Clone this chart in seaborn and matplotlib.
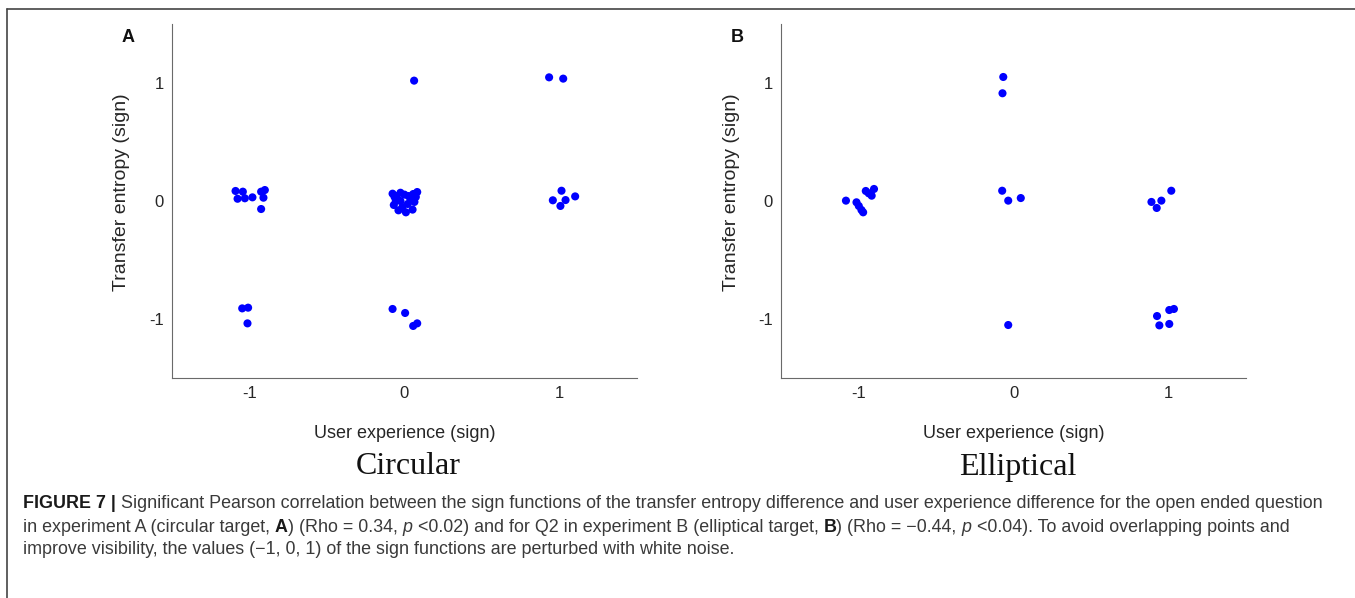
import matplotlib
matplotlib.use("Agg")
import matplotlib.pyplot as plt
from matplotlib.lines import Line2D
import seaborn as sns
import pandas as pd

# ---------------- data (jittered sign values) ----------------
a_x = [-1.090, -1.043, -1.077, -1.030, -0.981, -0.925, -0.901, -0.910, -0.925,
       -1.047, -1.009, -1.013,
       0.062,
       -0.077, 0.004, 0.056, 0.082,
       -0.077, -0.052, -0.026, 0.000, 0.026, 0.056, 0.082, -0.069, -0.039, 0.009,
       0.052, 0.064, 0.021, -0.026, -0.056, -0.013, 0.039, -0.064, 0.073,
       0.933, 1.024,
       1.013, 0.957, 1.006, 1.039, 1.101]
a_y = [0.085, 0.079, 0.019, 0.023, 0.031, 0.079, 0.093, 0.028, -0.068,
       -0.910, -0.904, -1.037,
       1.020,
       -0.915, -0.949, -1.059, -1.037,
       0.062, 0.042, 0.070, 0.054, 0.042, 0.059, 0.076, -0.034, -0.079, -0.096,
       -0.073, -0.008, -0.025, 0.000, 0.000, -0.051, 0.017, 0.034, 0.034,
       1.048, 1.037,
       0.087, 0.006, -0.042, 0.008, 0.039]

b_x = [-1.081, -1.013, -0.998, -0.981, -0.970, -0.953, -0.934, -0.915, -0.900,
       -0.066, -0.071,
       -0.073, -0.034, 0.047,
       -0.034,
       0.890, 0.924, 0.954, 1.018,
       0.926, 0.941, 1.005, 1.005, 1.035]
b_y = [0.003, -0.011, -0.042, -0.076, -0.096, 0.085, 0.065, 0.045, 0.102,
       1.051, 0.913,
       0.087, 0.003, 0.025,
       -1.051,
       -0.008, -0.059, 0.003, 0.087,
       -0.975, -1.054, -1.042, -0.924, -0.915]

ticks = [-1, 0, 1]
tick_labels = ["-1", "0", "1"]
panel_letters = ["A", "B"]
subtitles = ["Circular", "Elliptical"]
xlabel = "User experience (sign)"
ylabel = "Transfer entropy (sign)"

caption_lines = [
    [("FIGURE 7 |", "bold", "normal"),
     (" Significant Pearson correlation between the sign functions of the transfer entropy difference and user experience difference for the open ended question", "normal", "normal")],
    [("in experiment A (circular target, ", "normal", "normal"), ("A", "bold", "normal"),
     (") (Rho = 0.34, ", "normal", "normal"), ("p", "normal", "italic"),
     (" <0.02) and for Q2 in experiment B (elliptical target, ", "normal", "normal"),
     ("B", "bold", "normal"), (") (Rho = \u22120.44, ", "normal", "normal"),
     ("p", "normal", "italic"), (" <0.04). To avoid overlapping points and", "normal", "normal")],
    [("improve visibility, the values (\u22121, 0, 1) of the sign functions are perturbed with white noise.", "normal", "normal")],
]

# ---------------- figure ----------------
sns.set_style("white")
plt.rcParams["font.family"] = ["Liberation Sans", "DejaVu Sans"]

W, H = 1355, 598
fig = plt.figure(figsize=(W / 100, H / 100), dpi=100)

def fx(px):
    return px / W

def fy(py):
    return 1 - py / H

ax_left_px = [172, 781]
ax_top, ax_bot, ax_w = 24, 378, 465
axes = []
for left in ax_left_px:
    ax = fig.add_axes([fx(left), fy(ax_bot), ax_w / W, (ax_bot - ax_top) / H])
    axes.append(ax)

spine_col = "#6a6a6a"
text_col = "#262626"
for i, (ax, xs, ys) in enumerate(zip(axes, [a_x, b_x], [a_y, b_y])):
    df = pd.DataFrame({"x": xs, "y": ys})
    sns.scatterplot(data=df, x="x", y="y", ax=ax, color="#0000ff", s=34,
                    edgecolor="none", linewidth=0)
    ax.set_xlim(-1.5, 1.5)
    ax.set_ylim(-1.5, 1.5)
    ax.set_xticks(ticks)
    ax.set_yticks(ticks)
    ax.set_xticklabels(tick_labels)
    ax.set_yticklabels(tick_labels)
    sns.despine(ax=ax)
    for sp in ["left", "bottom"]:
        ax.spines[sp].set_color(spine_col)
        ax.spines[sp].set_linewidth(0.8)
    ax.tick_params(direction="in", length=4, width=0.7, color=spine_col,
                   labelsize=12, labelcolor=text_col)
    ax.tick_params(axis="x", pad=6)
    ax.tick_params(axis="y", pad=6)
    ax.set_xlabel(xlabel, fontsize=13, color=text_col, va="center")
    ax.set_ylabel(ylabel, fontsize=14, color=text_col, va="center")
    ax.xaxis.set_label_coords(0.5, (ax_bot - 434) / (ax_bot - ax_top))
    ax.yaxis.set_label_coords(-50 / ax_w, (ax_bot - 192) / (ax_bot - ax_top))
    ax.set_facecolor("white")

    left = ax_left_px[i]
    fig.text(fx(left - 44), fy(37), panel_letters[i], fontsize=13, fontweight="bold",
             color="#111111", ha="center", va="center")
    fig.text(fx(left + ax_w / 2 + 4), fy(467), subtitles[i], fontsize=23,
             family=["Liberation Serif", "DejaVu Serif"], color="#111111",
             ha="center", va="center")

# frame lines
fig.add_artist(Line2D([fx(7.5), 1.0], [fy(8.5), fy(8.5)], color="#444444", lw=1.2))
fig.add_artist(Line2D([fx(7.5), fx(7.5)], [0.0, fy(8.5)], color="#444444", lw=1.2))

# caption drawn in segments
renderer = fig.canvas.get_renderer()
cap_size = 12.9
cap_col = "#3a3a3a"

def text_width(s, weight, style):
    t = fig.text(0, 0, s, fontsize=cap_size, fontweight=weight, fontstyle=style)
    w = t.get_window_extent(renderer=renderer).width
    t.remove()
    return w

line_y = [504, 527, 549]
for line, yy in zip(caption_lines, line_y):
    x = 23.0
    for s, weight, style in line:
        space_w = text_width("x x", weight, style) - text_width("xx", weight, style)
        lead = len(s) - len(s.lstrip(" "))
        trail = len(s) - len(s.rstrip(" "))
        core = s.strip(" ")
        x += lead * space_w
        col = "#1a1a1a" if weight == "bold" else cap_col
        t = fig.text(fx(x), fy(yy), core, fontsize=cap_size, fontweight=weight,
                     fontstyle=style, color=col, ha="left", va="center")
        x += t.get_window_extent(renderer=renderer).width
        x += trail * space_w

fig.savefig("out.png", dpi=100, facecolor="white")
